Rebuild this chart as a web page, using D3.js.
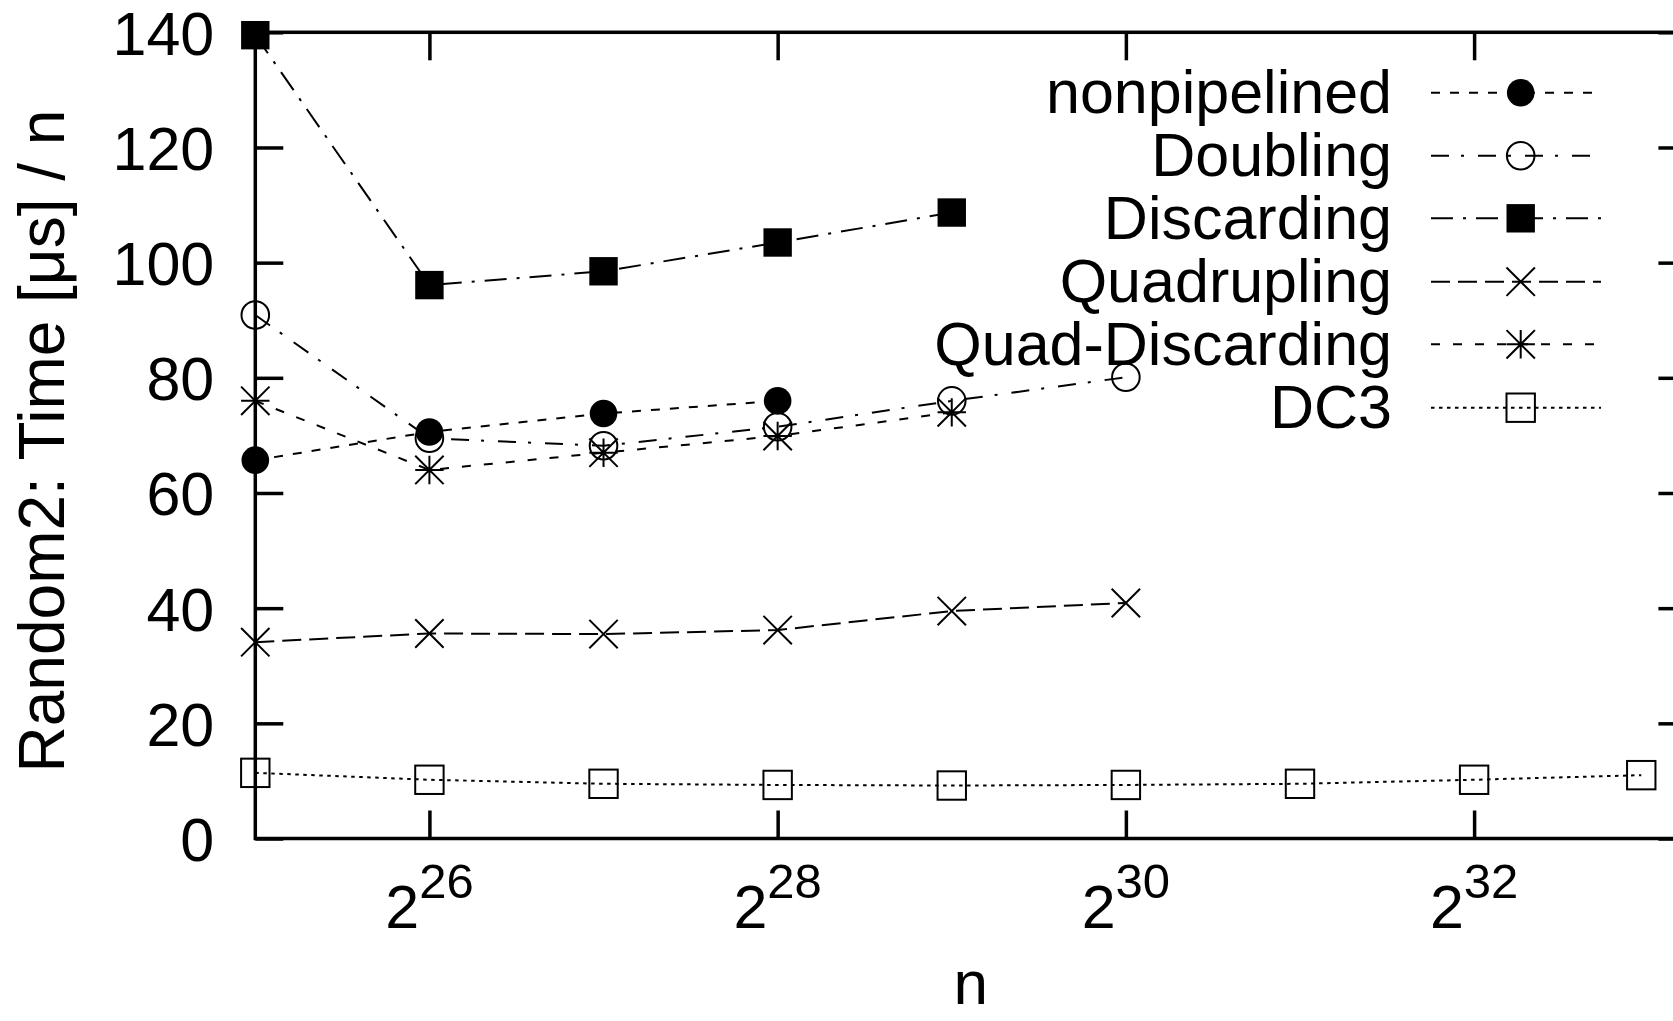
<!DOCTYPE html>
<html>
<head>
<meta charset="utf-8">
<script src="https://cdn.jsdelivr.net/npm/d3@7"></script>
<style>
  body { margin: 0; background: #fff; }
  text { font-family: "Liberation Sans", Arial, Helvetica, sans-serif; fill: #000; }
</style>
</head>
<body>
<div id="chart"></div>
<script>
// data (x = log2 of n)
const nExp = [25, 26, 27, 28, 29, 30, 31, 32, 32.96];
const nonpipelined = [65.7, 70.6, 73.8, 76.0];
const doubling = [90.9, 69.5, 68.2, 71.5, 76.0, 80.1];
const discarding = [139.5, 96.1, 98.5, 103.5, 108.7];
const quadrupling = [34.1, 35.6, 35.5, 36.2, 39.5, 40.9];
const quadDiscarding = [76.0, 64.0, 67.0, 69.9, 74.0];
const dc3 = [11.4, 10.2, 9.5, 9.3, 9.2, 9.3, 9.5, 10.2, 11.0];

const seriesNames = ["nonpipelined", "Doubling", "Discarding", "Quadrupling", "Quad-Discarding", "DC3"];
const yTicks = [0, 20, 40, 60, 80, 100, 120, 140];
const xTickExp = [26, 28, 30, 32];

// chart params
const svgWidth = 1673;
const svgHeight = 1021;
const plotLeft = 255.3, plotRight = 1686.4, plotTop = 32.3, plotBottom = 838.5;
const tickLen = 28;
const fontSize = 61;

const svg = d3.select("#chart").append("svg")
  .attr("width", svgWidth)
  .attr("height", svgHeight);

const x = d3.scaleLog().base(2)
  .domain([Math.pow(2, 25), 1e10])
  .range([plotLeft, plotRight]);
const y = d3.scaleLinear()
  .domain([0, 140])
  .range([plotBottom, plotTop]);

// frame
svg.append("rect")
  .attr("x", plotLeft).attr("y", plotTop)
  .attr("width", plotRight - plotLeft).attr("height", plotBottom - plotTop)
  .attr("fill", "none").attr("stroke", "#000").attr("stroke-width", 3.5);

function styleAxis(g) {
  g.select(".domain").remove();
  g.selectAll(".tick line").attr("stroke", "#000").attr("stroke-width", 3.5);
  g.attr("font-family", null).attr("font-size", null);
}

// y axes (left labelled, right ticks only)
svg.append("g")
  .attr("transform", `translate(${plotLeft},0)`)
  .call(d3.axisLeft(y).tickValues(yTicks).tickSize(-tickLen).tickPadding(41))
  .call(styleAxis)
  .selectAll("text")
  .attr("font-size", fontSize)
  .attr("dy", "0.36em");

svg.append("g")
  .attr("transform", `translate(${plotRight},0)`)
  .call(d3.axisRight(y).tickValues(yTicks).tickSize(-tickLen).tickFormat(""))
  .call(styleAxis);

// x axes
const xTickVals = xTickExp.map(e => Math.pow(2, e));
svg.append("g")
  .attr("transform", `translate(0,${plotBottom})`)
  .call(d3.axisBottom(x).tickValues(xTickVals).tickSize(-tickLen).tickFormat(""))
  .call(styleAxis);
svg.append("g")
  .attr("transform", `translate(0,${plotTop})`)
  .call(d3.axisTop(x).tickValues(xTickVals).tickSize(-tickLen).tickFormat(""))
  .call(styleAxis);

// x tick labels 2^k
const xl = svg.append("g").selectAll("text")
  .data(xTickExp)
  .enter()
  .append("text")
  .attr("x", d => x(Math.pow(2, d)))
  .attr("y", 928)
  .attr("text-anchor", "middle")
  .attr("font-size", fontSize);
xl.append("tspan").text("2");
xl.append("tspan").attr("dy", -30).attr("font-size", 49).text(d => d);

// axis titles
svg.append("text")
  .attr("x", (plotLeft + plotRight) / 2)
  .attr("y", 1004)
  .attr("text-anchor", "middle")
  .attr("font-size", 62)
  .text("n");

svg.append("text")
  .attr("transform", "translate(64,441) rotate(-90)")
  .attr("text-anchor", "middle")
  .attr("font-size", 64)
  .text("Random2: Time [μs] / n");

// markers
function drawMarker(g, type, cx, cy) {
  const r = 14.2;
  if (type === "fcircle") {
    g.append("circle").attr("cx", cx).attr("cy", cy).attr("r", 13.8).attr("fill", "#000");
  } else if (type === "ocircle") {
    g.append("circle").attr("cx", cx).attr("cy", cy).attr("r", 13.8)
      .attr("fill", "none").attr("stroke", "#000").attr("stroke-width", 2);
  } else if (type === "fsquare") {
    g.append("rect").attr("x", cx - r).attr("y", cy - r).attr("width", 2 * r).attr("height", 2 * r)
      .attr("fill", "#000");
  } else if (type === "osquare") {
    g.append("rect").attr("x", cx - r).attr("y", cy - r).attr("width", 2 * r).attr("height", 2 * r)
      .attr("fill", "none").attr("stroke", "#000").attr("stroke-width", 2);
  } else {
    let p = `M${cx - r},${cy - r}L${cx + r},${cy + r}M${cx - r},${cy + r}L${cx + r},${cy - r}`;
    if (type === "star") p += `M${cx - r},${cy}L${cx + r},${cy}M${cx},${cy - r}L${cx},${cy + r}`;
    g.append("path").attr("d", p).attr("fill", "none").attr("stroke", "#000").attr("stroke-width", 2);
  }
}

const seriesValues = [nonpipelined, doubling, discarding, quadrupling, quadDiscarding, dc3];
const markerTypes = ["fcircle", "ocircle", "fsquare", "cross", "star", "osquare"];
const dashes = ["9,10", "18,12,3,14", "22,10,3,10", "19,8", "9,13", "3.5,4.5"];

const line = d3.line()
  .x(d => x(d.n))
  .y(d => y(d.v));

const plotG = svg.append("g");
seriesValues.forEach(function(vals, i) {
  const pts = vals.map((v, j) => ({ n: Math.pow(2, nExp[j]), v: v }));
  plotG.append("path")
    .datum(pts)
    .attr("d", line)
    .attr("fill", "none")
    .attr("stroke", "#000")
    .attr("stroke-width", 2)
    .attr("stroke-dasharray", dashes[i]);
  pts.forEach(p => drawMarker(plotG, markerTypes[i], x(p.n), y(p.v)));
});

// legend
const legendRows = [92.7, 155.7, 218.3, 281.7, 344.3, 407.7];
const legG = svg.append("g");
seriesNames.forEach(function(name, i) {
  const ry = legendRows[i];
  legG.append("text")
    .attr("x", 1392)
    .attr("y", ry)
    .attr("dy", "0.34em")
    .attr("text-anchor", "end")
    .attr("font-size", 61)
    .text(name);
  legG.append("line")
    .attr("x1", 1431).attr("x2", 1601)
    .attr("y1", ry).attr("y2", ry)
    .attr("stroke", "#000")
    .attr("stroke-width", 2)
    .attr("stroke-dasharray", dashes[i]);
  drawMarker(legG, markerTypes[i], 1520.7, ry);
});
</script>
</body>
</html>
